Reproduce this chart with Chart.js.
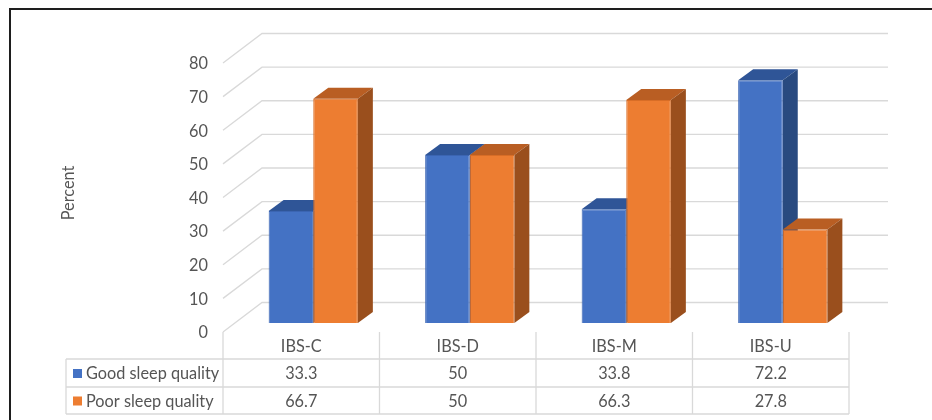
<!DOCTYPE html>
<html lang="en">
<head>
  <meta charset="UTF-8" />
  <title>Sleep quality by IBS subtype</title>
  <style>
    body { margin: 0; background: #ffffff; }
    #wrap { position: relative; width: 932px; height: 420px; overflow: hidden; }
    #frame { position: absolute; left: 9px; top: 8px; width: 1000px; height: 500px; border: 2px solid #1e1e1e; box-sizing: border-box; }
    canvas { position: absolute; left: 0; top: 0; }
  </style>
  <script src="https://cdn.jsdelivr.net/npm/chart.js"></script>
</head>
<body>
  <div id="wrap">
    <div id="frame"></div>
    <canvas id="chart" width="932" height="420"></canvas>
  </div>

  <script>
    const categories = ['IBS-C', 'IBS-D', 'IBS-M', 'IBS-U'];
    const goodSleep = [33.3, 50, 33.8, 72.2];
    const poorSleep = [66.7, 50, 66.3, 27.8];
    const seriesNames = ['Good sleep quality', 'Poor sleep quality'];
    const yTicks = [0, 10, 20, 30, 40, 50, 60, 70, 80];

    const FONT = '16.3px Lato, "Open Sans", sans-serif';
    const TEXT = '#555555';
    const GRID = '#d9d9d9';

    // fake 3d: bars sit a bit behind the floor's front edge
    const FRONT = { dx: -12, dy: 9 };     // floor front edge, relative to bar plane
    const DEPTH = { dx: 39, dy: -29.5 };  // full wall depth
    const BAR = { dx: 15, dy: -11 };      // depth of each column

    const faces = [
      { front: '#4472c4', edge: '#3b65b2', top: '#2f5597', side: '#294a80' },
      { front: '#ed7d31', edge: '#d86d26', top: '#b95e23', side: '#9a4f1d' }
    ];

    function poly(ctx, pts, fill) {
      ctx.beginPath();
      ctx.moveTo(pts[0][0], pts[0][1]);
      for (let i = 1; i < pts.length; i++) ctx.lineTo(pts[i][0], pts[i][1]);
      ctx.closePath();
      ctx.fillStyle = fill;
      ctx.fill();
    }

    const box3d = {
      id: 'box3d',
      beforeDatasetsDraw(chart) {
        const ctx = chart.ctx;
        const ys = chart.scales.y, area = chart.chartArea;
        const fl = area.left + FRONT.dx;
        const bl = fl + DEPTH.dx;
        const br = area.right + FRONT.dx + DEPTH.dx;

        ctx.save();
        // side wall + back wall gridlines
        ctx.strokeStyle = GRID;
        ctx.lineWidth = 1.3;
        yTicks.forEach(v => {
          const yf = ys.getPixelForValue(v) + FRONT.dy;
          const yb = yf + DEPTH.dy;
          ctx.beginPath();
          ctx.moveTo(fl, yf);
          ctx.lineTo(bl, yb);
          ctx.lineTo(br, yb);
          ctx.stroke();
        });

        // tops and right sides, drawn in order so neighbours overlap properly
        categories.forEach((c, i) => {
          chart.data.datasets.forEach((ds, d) => {
            const el = chart.getDatasetMeta(d).data[i];
            const x0 = el.x - el.width / 2, x1 = el.x + el.width / 2;
            const top = el.y, base = el.base;
            poly(ctx, [[x0, top], [x1, top], [x1 + BAR.dx, top + BAR.dy], [x0 + BAR.dx, top + BAR.dy]], faces[d].top);
            poly(ctx, [[x1, top], [x1 + BAR.dx, top + BAR.dy], [x1 + BAR.dx, base + BAR.dy], [x1, base]], faces[d].side);
          });
        });
        ctx.restore();
      },
      afterDraw(chart) {
        const ctx = chart.ctx;
        const xs = chart.scales.x, ys = chart.scales.y, area = chart.chartArea;
        const fl = area.left + FRONT.dx;
        const fr = area.right + FRONT.dx;
        const yFloor = ys.getPixelForValue(0) + FRONT.dy;

        ctx.save();
        ctx.font = FONT;
        ctx.fillStyle = TEXT;

        // value axis labels
        ctx.textAlign = 'right';
        ctx.textBaseline = 'middle';
        yTicks.forEach(v => {
          ctx.fillText(String(v), fl - 15, ys.getPixelForValue(v) + FRONT.dy + 1);
        });

        // axis title
        ctx.save();
        ctx.translate(69, 193);
        ctx.rotate(-Math.PI / 2);
        ctx.textAlign = 'center';
        ctx.fillText('Percent', 0, 0);
        ctx.restore();

        // data table
        const rowLines = [359, 387, 414];
        const tableLeft = 66;
        const step = (fr - fl) / categories.length;
        ctx.strokeStyle = GRID;
        ctx.lineWidth = 1.3;
        ctx.beginPath();
        rowLines.forEach(y => { ctx.moveTo(tableLeft, y); ctx.lineTo(fr, y); });
        ctx.moveTo(tableLeft, rowLines[0]);
        ctx.lineTo(tableLeft, rowLines[2]);
        for (let i = 0; i <= categories.length; i++) {
          const x = fl + i * step;
          ctx.moveTo(x, yFloor);
          ctx.lineTo(x, rowLines[2]);
        }
        ctx.stroke();

        ctx.textAlign = 'center';
        categories.forEach((c, i) => {
          const cx = xs.getPixelForValue(i) + FRONT.dx;
          ctx.fillText(c, cx, (yFloor + rowLines[0]) / 2 + 1);
        });

        chart.data.datasets.forEach((ds, d) => {
          const cy = (rowLines[d] + rowLines[d + 1]) / 2 + 1;
          ctx.fillStyle = faces[d].front;
          ctx.fillRect(73, cy - 5, 9, 9);
          ctx.fillStyle = TEXT;
          ctx.textAlign = 'left';
          ctx.fillText(ds.label, 86, cy);
          ctx.textAlign = 'center';
          ds.data.forEach((v, i) => {
            ctx.fillText(String(v), xs.getPixelForValue(i) + FRONT.dx, cy);
          });
        });
        ctx.restore();
      }
    };

    new Chart(document.getElementById('chart'), {
      type: 'bar',
      data: {
        labels: categories,
        datasets: [
          { label: seriesNames[0], data: goodSleep, backgroundColor: faces[0].front, borderColor: faces[0].edge, borderWidth: 1 },
          { label: seriesNames[1], data: poorSleep, backgroundColor: faces[1].front, borderColor: faces[1].edge, borderWidth: 1 }
        ]
      },
      options: {
        responsive: false,
        animation: false,
        layout: { padding: { left: 235, right: 71, top: 54, bottom: 97 } },
        datasets: { bar: { barPercentage: 1, categoryPercentage: 0.57 } },
        scales: {
          x: { display: false },
          y: { display: false, min: 0, max: 80 }
        },
        plugins: { legend: { display: false }, tooltip: { enabled: false } }
      },
      plugins: [box3d]
    });
  </script>
</body>
</html>
